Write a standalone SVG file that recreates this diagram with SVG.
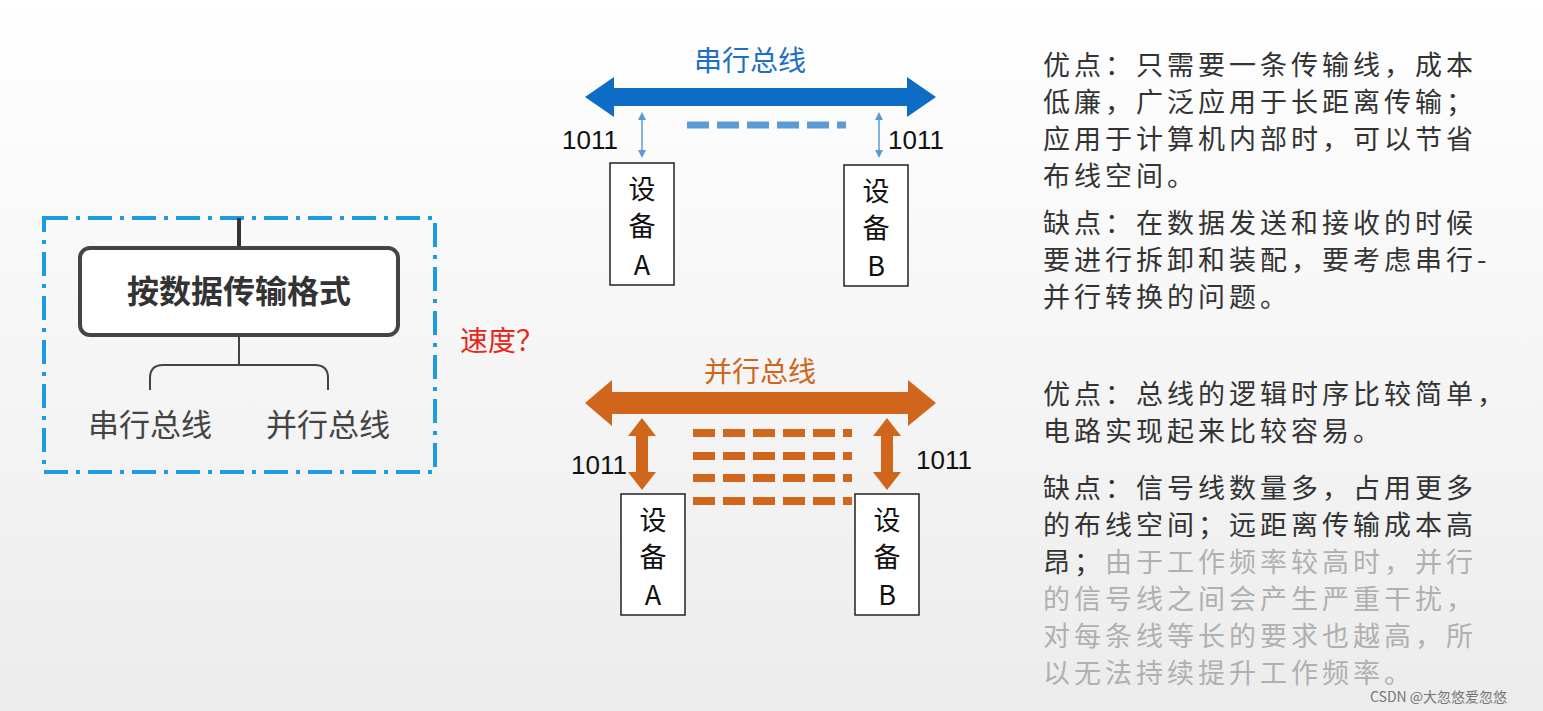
<svg xmlns="http://www.w3.org/2000/svg" width="1543" height="711" viewBox="0 0 1543 711">
<defs>
<linearGradient id="bg" x1="0" y1="0" x2="0" y2="1"><stop offset="0" stop-color="#ffffff"/><stop offset="1" stop-color="#ececec"/></linearGradient>
<style>
text{font-family:"Noto Sans CJK SC","Liberation Sans",sans-serif}
.num{font-family:"Liberation Sans",sans-serif;font-size:26px;fill:#111}
.dev{fill:#fff;stroke:#222;stroke-width:1.5}
.dt{font-size:27px;fill:#111;text-anchor:middle}
.r{font-size:27px;fill:#333;letter-spacing:4px}
.g{fill:#b0b0b0}
</style>
</defs>
<rect width="1543" height="711" fill="url(#bg)"/>
<g id="category">
<rect x="44" y="218" width="391" height="254" fill="none" stroke="#1e9be0" stroke-width="4" stroke-dasharray="24,8,4,8"/>
<line x1="239" y1="218" x2="239" y2="248" stroke="#333" stroke-width="4"/>
<rect x="80" y="248" width="318" height="87" rx="10" fill="#fff" stroke="#444" stroke-width="4"/>
<text x="239" y="303" font-size="32" font-weight="bold" fill="#333" text-anchor="middle">按数据传输格式</text>
<line x1="239" y1="335" x2="239" y2="365" stroke="#444" stroke-width="2"/>
<path d="M150 390 V378 Q150 365 163 365 H315 Q328 365 328 378 V390" fill="none" stroke="#444" stroke-width="2"/>
<text x="150" y="436" font-size="31" fill="#444" text-anchor="middle">串行总线</text>
<text x="328" y="436" font-size="31" fill="#444" text-anchor="middle">并行总线</text>
</g>
<text x="460" y="351" font-size="28" fill="#e8261c">速度？</text>
<g id="connectors">
<path d="M585 97 L614 77 V88 H907 V77 L936 97 L907 117 V106 H614 V117 Z" fill="#0c6cc6"/>
<g stroke="#5b9bd5" stroke-width="1.5" fill="#5b9bd5">
<line x1="642" y1="118" x2="642" y2="152"/><path d="M642 112 l-4 8 h8z M642 158 l-4 -8 h8z" stroke="none"/>
<line x1="879" y1="118" x2="879" y2="152"/><path d="M879 112 l-4 8 h8z M879 158 l-4 -8 h8z" stroke="none"/>
</g>
<line x1="687" y1="125" x2="846" y2="125" stroke="#5b9bd5" stroke-width="7" stroke-dasharray="22,8"/>
<path d="M585 403 L612 380 V392 H908 V380 L936 403 L908 426 V414 H612 V426 Z" fill="#d0651c"/>
<path d="M642 418 L656 436 H648 V472 H656 L642 490 L628 472 H636 V436 H628 Z" fill="#d0651c"/>
<path d="M887 418 L901 436 H893 V472 H901 L887 490 L873 472 H881 V436 H873 Z" fill="#d0651c"/>
<g stroke="#d0651c" stroke-width="8" stroke-dasharray="22,8">
<line x1="693" y1="433" x2="852" y2="433"/><line x1="693" y1="456" x2="852" y2="456"/>
<line x1="693" y1="478" x2="852" y2="478"/><line x1="693" y1="501" x2="852" y2="501"/>
</g>
</g>
<text x="750" y="71" font-size="28" fill="#1f6fc5" text-anchor="middle">串行总线</text>
<text x="760" y="382" font-size="28" fill="#d0651c" text-anchor="middle">并行总线</text>
<text x="562" y="149" class="num">1011</text>
<text x="888" y="149" class="num">1011</text>
<text x="571" y="474" class="num">1011</text>
<text x="916" y="469" class="num">1011</text>
<g id="sA"><rect x="610" y="163" width="64" height="122" class="dev"/><text x="642" y="199" class="dt">设</text><text x="642" y="236" class="dt">备</text><text x="642" y="275" class="dt" font-family="Liberation Sans">A</text></g>
<g id="sB"><rect x="844" y="165" width="64" height="121" class="dev"/><text x="876" y="201" class="dt">设</text><text x="876" y="238" class="dt">备</text><text x="876" y="276" class="dt" font-family="Liberation Sans">B</text></g>
<g id="pA"><rect x="621" y="494" width="64" height="121" class="dev"/><text x="653" y="530" class="dt">设</text><text x="653" y="567" class="dt">备</text><text x="653" y="605" class="dt" font-family="Liberation Sans">A</text></g>
<g id="pB"><rect x="855" y="494" width="64" height="121" class="dev"/><text x="887" y="530" class="dt">设</text><text x="887" y="567" class="dt">备</text><text x="887" y="605" class="dt" font-family="Liberation Sans">B</text></g>
<g class="r">
<text x="1043" y="75">优点：只需要一条传输线，成本</text>
<text x="1043" y="112">低廉，广泛应用于长距离传输；</text>
<text x="1043" y="149">应用于计算机内部时，可以节省</text>
<text x="1043" y="186">布线空间。</text>
<text x="1043" y="233">缺点：在数据发送和接收的时候</text>
<text x="1043" y="270">要进行拆卸和装配，要考虑串行-</text>
<text x="1043" y="307">并行转换的问题。</text>
<text x="1043" y="404">优点：总线的逻辑时序比较简单，</text>
<text x="1043" y="441">电路实现起来比较容易。</text>
<text x="1043" y="498">缺点：信号线数量多，占用更多</text>
<text x="1043" y="535">的布线空间；远距离传输成本高</text>
<text x="1043" y="572">昂；<tspan class="g">由于工作频率较高时，并行</tspan></text>
<text x="1043" y="609" class="g">的信号线之间会产生严重干扰，</text>
<text x="1043" y="646" class="g">对每条线等长的要求也越高，所</text>
<text x="1043" y="683" class="g">以无法持续提升工作频率。</text>
</g>
<text x="1370" y="702" font-size="14" fill="#777">CSDN @大忽悠爱忽悠</text>
</svg>
